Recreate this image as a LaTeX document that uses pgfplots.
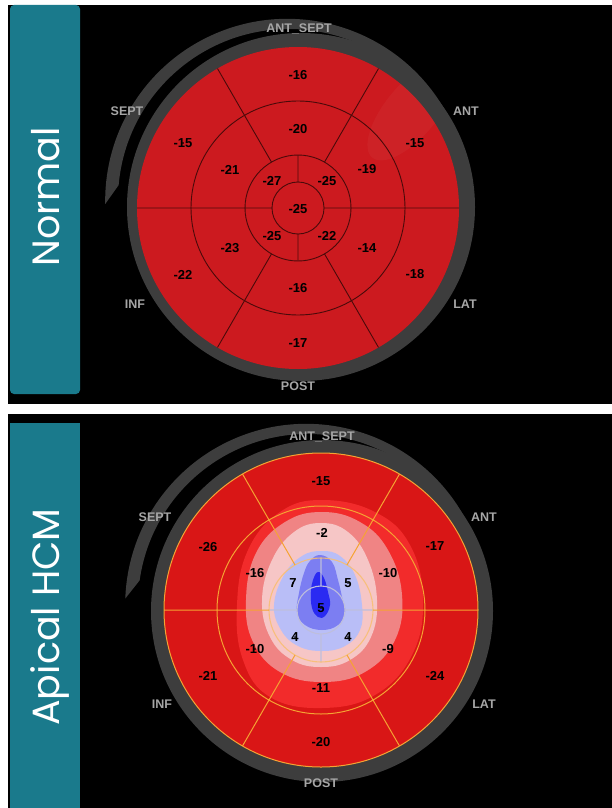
\documentclass[border=0pt]{standalone}
\usepackage{pgfplots}
\pgfplotsset{compat=1.18}
\usepackage{pgfplotstable}
\usepackage{fontspec}
\setmainfont{Liberation Sans}
\newfontfamily\titlefont{Poppins}

\definecolor{panelteal}{HTML}{1A7A8C}
\definecolor{ringgray}{HTML}{3D3D3D}
\definecolor{labelgray}{HTML}{A6A6A6}
\definecolor{segred}{HTML}{CC1A1F}
\definecolor{segline}{HTML}{4A0A0A}
\definecolor{hcmred}{HTML}{D91616}
\definecolor{hcmbright}{HTML}{F22B2B}
\definecolor{hcmsalmon}{HTML}{F08484}
\definecolor{hcmpink}{HTML}{F6C6C6}
\definecolor{hcmlblue}{HTML}{B9BEF7}
\definecolor{hcmmblue}{HTML}{7C7EF2}
\definecolor{hcmdblue}{HTML}{2A2AF2}
\definecolor{hcmline}{HTML}{F5A333}
\definecolor{hcmgrid}{HTML}{BEBEDC}

% peak systolic longitudinal strain per segment (position in px, value)
\pgfplotstableread{
x y v
298 75 -16
183 143 -15
415 143 -15
183 275 -22
415 274 -18
298 343 -17
298 129 -20
230 170 -21
367 169 -19
230 248 -23
367 248 -14
298 288 -16
272 181 -27
327 181 -25
272 236 -25
327 236 -22
298 209 -25
}\normalstrain

\pgfplotstableread{
x y v
321 481 -15
208 547 -26
435 546 -17
208 676 -21
435 676 -24
321 742 -20
322 533 -2
255 573 -16
388 573 -10
255 649 -10
388 649 -9
321 688 -11
293 583 7
348 583 5
295 637 4
348 637 4
321 608 5
}\hcmstrain

\begin{document}
\begin{tikzpicture}
\begin{axis}[
  x=1bp, y=1bp, y dir=reverse,
  xmin=0, xmax=612, ymin=0, ymax=808,
  hide axis, clip=false,
]
% page and panels
\coordinate (TL) at (axis cs:0,0);
\coordinate (BR) at (axis cs:612,808);
\fill[white] (axis cs:0,0) rectangle (axis cs:612,808);
\fill[black] (axis cs:8,5) rectangle (axis cs:612,404);
\fill[black] (axis cs:8,414) rectangle (axis cs:612,808);
\fill[panelteal, rounded corners=4bp] (axis cs:10,5) rectangle (axis cs:80,394);
\fill[panelteal] (axis cs:10,423) rectangle (axis cs:80,808);
\node[rotate=90, anchor=base, text=white, font=\titlefont\fontsize{38bp}{40bp}\selectfont]
  at (axis cs:59,197) {Normal};
\node[rotate=90, anchor=base, text=white, font=\titlefont\fontsize{38bp}{40bp}\selectfont]
  at (axis cs:59,617) {Apical HCM};

% ---------- Normal bullseye ----------
\coordinate (cN) at (axis cs:298,208);
\coordinate (gN) at (axis cs:301,207);
\coordinate (aN) at (axis cs:289,200);
\fill[ringgray] ([shift={(25:180bp)}]aN) arc[start angle=25, end angle=181, radius=182bp]
  -- ([shift={(175:171bp)}]aN) arc[start angle=175, end angle=32, radius=171bp] -- cycle;
\fill[ringgray] (gN) circle[radius=174bp];
\fill[segred] (cN) circle[radius=161bp];
\begin{scope}
\clip (cN) circle[radius=161bp];
\fill[white, opacity=0.035, rotate around={-40:(axis cs:412,110)}]
  (axis cs:412,110) ellipse[x radius=26bp, y radius=62bp];
\end{scope}
\draw[segline, line width=0.9bp]
  (cN) circle[radius=26bp]
  (cN) circle[radius=53bp]
  (cN) circle[radius=107bp]
  ([shift={(0:26bp)}]cN) -- ([shift={(0:161bp)}]cN)
  ([shift={(180:26bp)}]cN) -- ([shift={(180:161bp)}]cN)
  ([shift={(90:26bp)}]cN) -- ([shift={(90:53bp)}]cN)
  ([shift={(270:26bp)}]cN) -- ([shift={(270:53bp)}]cN)
  ([shift={(60:53bp)}]cN) -- ([shift={(60:161bp)}]cN)
  ([shift={(120:53bp)}]cN) -- ([shift={(120:161bp)}]cN)
  ([shift={(240:53bp)}]cN) -- ([shift={(240:161bp)}]cN)
  ([shift={(300:53bp)}]cN) -- ([shift={(300:161bp)}]cN);
\begin{scope}[text=labelgray, font=\bfseries\fontsize{12.5bp}{14bp}\selectfont]
\node at (axis cs:299,29) {ANT\_SEPT};
\node at (axis cs:127,111) {SEPT};
\node at (axis cs:466,111) {ANT};
\node at (axis cs:135,304) {INF};
\node at (axis cs:465,304) {LAT};
\node at (axis cs:298,386) {POST};
\end{scope}

% ---------- Apical HCM bullseye ----------
\coordinate (cH) at (axis cs:321,610);
\coordinate (gH) at (axis cs:322,611);
\coordinate (aH) at (axis cs:308,604);
\fill[ringgray] ([shift={(25:179bp)}]aH) arc[start angle=25, end angle=178, radius=181bp]
  -- ([shift={(172:170bp)}]aH) arc[start angle=172, end angle=32, radius=170bp] -- cycle;
\fill[ringgray] (gH) circle[radius=171bp];
\begin{scope}
\clip (cH) circle[radius=157bp];
\fill[hcmred] (cH) circle[radius=157bp];
\fill[hcmbright] plot[smooth cycle, tension=0.7] coordinates {
  (axis cs:322,500) (axis cs:375,512) (axis cs:410,545) (axis cs:423,600)
  (axis cs:412,655) (axis cs:375,695) (axis cs:322,708) (axis cs:270,697)
  (axis cs:243,660) (axis cs:237,605) (axis cs:248,550) (axis cs:280,512)};
\fill[hcmsalmon] plot[smooth cycle, tension=0.7] coordinates {
  (axis cs:322,512) (axis cs:360,522) (axis cs:388,550) (axis cs:402,595)
  (axis cs:395,640) (axis cs:365,672) (axis cs:322,682) (axis cs:280,672)
  (axis cs:253,642) (axis cs:246,600) (axis cs:256,553) (axis cs:285,522)};
\fill[hcmpink] plot[smooth cycle, tension=0.7] coordinates {
  (axis cs:321,523) (axis cs:348,532) (axis cs:368,560) (axis cs:377,600)
  (axis cs:371,637) (axis cs:350,660) (axis cs:321,667) (axis cs:292,660)
  (axis cs:270,637) (axis cs:262,600) (axis cs:272,560) (axis cs:294,532)};
\fill[hcmlblue] plot[smooth cycle, tension=0.7] coordinates {
  (axis cs:322,551) (axis cs:340,556) (axis cs:355,575) (axis cs:362,605)
  (axis cs:360,630) (axis cs:345,646) (axis cs:322,651) (axis cs:298,646)
  (axis cs:281,630) (axis cs:274,605) (axis cs:284,575) (axis cs:302,556)};
\fill[hcmmblue] plot[smooth cycle, tension=0.7] coordinates {
  (axis cs:320,555) (axis cs:332,562) (axis cs:338,580) (axis cs:342,597)
  (axis cs:345,612) (axis cs:338,625) (axis cs:322,630) (axis cs:305,625)
  (axis cs:297,612) (axis cs:299,593) (axis cs:304,573) (axis cs:310,561)};
\fill[hcmdblue] plot[smooth cycle, tension=0.7] coordinates {
  (axis cs:318,572) (axis cs:324,578) (axis cs:328,592) (axis cs:330,605)
  (axis cs:325,616) (axis cs:318,617) (axis cs:312,608) (axis cs:311,592)
  (axis cs:313,580)};
\end{scope}
\draw[hcmgrid, line width=1.1bp]
  (cH) circle[radius=24bp]
  ([shift={(0:24bp)}]cH) -- ([shift={(0:52bp)}]cH)
  ([shift={(180:24bp)}]cH) -- ([shift={(180:52bp)}]cH)
  ([shift={(90:24bp)}]cH) -- ([shift={(90:52bp)}]cH)
  ([shift={(270:24bp)}]cH) -- ([shift={(270:52bp)}]cH);
\draw[hcmline!70!white, line width=1.1bp, opacity=0.85] (cH) circle[radius=52bp];
\draw[hcmline, line width=1bp]
  (cH) circle[radius=104bp]
  (cH) circle[radius=157bp]
  ([shift={(0:52bp)}]cH) -- ([shift={(0:157bp)}]cH)
  ([shift={(180:52bp)}]cH) -- ([shift={(180:157bp)}]cH)
  ([shift={(60:52bp)}]cH) -- ([shift={(60:157bp)}]cH)
  ([shift={(120:52bp)}]cH) -- ([shift={(120:157bp)}]cH)
  ([shift={(240:52bp)}]cH) -- ([shift={(240:157bp)}]cH)
  ([shift={(300:52bp)}]cH) -- ([shift={(300:157bp)}]cH);
\begin{scope}[text=labelgray, font=\bfseries\fontsize{12.5bp}{14bp}\selectfont]
\node at (axis cs:322,437) {ANT\_SEPT};
\node at (axis cs:155,517) {SEPT};
\node at (axis cs:484,517) {ANT};
\node at (axis cs:162,704) {INF};
\node at (axis cs:484,704) {LAT};
\node at (axis cs:321,783) {POST};
\end{scope}

% segment values
\addplot[only marks, mark=*, mark size=0.5bp, mark options={draw=none, fill=none},
  point meta=explicit symbolic, nodes near coords,
  every node near coord/.append style={anchor=center, text=black,
    font=\bfseries\fontsize{13bp}{15bp}\selectfont}]
  table[x=x, y=y, meta=v] {\normalstrain};
\addplot[only marks, mark=*, mark size=0.5bp, mark options={draw=none, fill=none},
  point meta=explicit symbolic, nodes near coords,
  every node near coord/.append style={anchor=center, text=black,
    font=\bfseries\fontsize{13bp}{15bp}\selectfont}]
  table[x=x, y=y, meta=v] {\hcmstrain};
\end{axis}
\pgfresetboundingbox
\path (TL) rectangle (BR);
\end{tikzpicture}
\end{document}
